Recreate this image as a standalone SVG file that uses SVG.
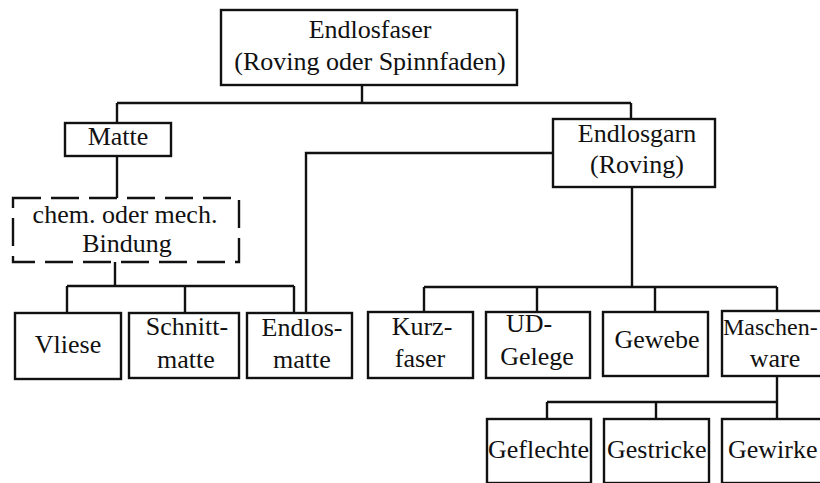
<svg xmlns="http://www.w3.org/2000/svg" width="820" height="483" viewBox="0 0 820 483">
<style>
.box{fill:#fff;stroke:#111;stroke-width:2.4}
.dash{fill:#fff;stroke:#111;stroke-width:2.4;stroke-dasharray:28 10}
.ln{fill:none;stroke:#111;stroke-width:2.4}
text{font-family:"Liberation Serif","Times New Roman",serif;font-size:26px;fill:#111;text-anchor:middle}
.st{text-anchor:start}
</style>
<rect width="820" height="483" fill="#fff"/>
<g id="connectors">
<path class="ln" d="M362 85V103M117 103H631M117 103V123M631 103V119"/>
<path class="ln" d="M117 156V198"/>
<path class="ln" d="M115 262V286M67 286H294M67 286V313M185 286V313M294 286V313"/>
<path class="ln" d="M553 153H306V313"/>
<path class="ln" d="M632 187V287M424 287H777M424 287V312M537 287V312M655 287V312M777 287V311"/>
<path class="ln" d="M777 376V402M547 402H777M547 402V419M656 402V419M777 402V419"/>
</g>
<g id="endlosfaser"><rect class="box" x="221" y="10" width="296" height="75"/><text x="370" y="38">Endlosfaser</text><text x="370" y="70">(Roving oder Spinnfaden)</text></g>
<g id="matte"><rect class="box" x="65" y="123" width="106" height="33"/><text x="118" y="145">Matte</text></g>
<g id="bindung"><rect class="dash" x="13" y="198" width="226" height="64"/><text x="125" y="223">chem. oder mech.</text><text x="127" y="252">Bindung</text></g>
<g id="endlosgarn"><rect class="box" x="553" y="119" width="162" height="68"/><text x="637" y="142">Endlosgarn</text><text x="637" y="173">(Roving)</text></g>
<g id="vliese"><rect class="box" x="15" y="313" width="106" height="66"/><text x="68" y="353">Vliese</text></g>
<g id="schnittmatte"><rect class="box" x="129" y="313" width="110" height="65"/><text x="187" y="335">Schnitt-</text><text x="186" y="368">matte</text></g>
<g id="endlosmatte"><rect class="box" x="247" y="313" width="105" height="65"/><text x="302" y="336">Endlos-</text><text x="302" y="368">matte</text></g>
<g id="kurzfaser"><rect class="box" x="368" y="312" width="105" height="66"/><text x="422" y="335">Kurz-</text><text x="420" y="367">faser</text></g>
<g id="udgelege"><rect class="box" x="486" y="312" width="104" height="66"/><text x="529" y="332">UD-</text><text x="537" y="365">Gelege</text></g>
<g id="gewebe"><rect class="box" x="603" y="312" width="105" height="64"/><text x="657" y="348">Gewebe</text></g>
<g id="maschenware"><rect class="box" x="722" y="311" width="112" height="65"/><text class="st" x="723" y="335" style="font-size:24px">Maschen-</text><text x="775" y="367">ware</text></g>
<g id="geflechte"><rect class="box" x="487" y="419" width="104" height="64"/><text class="st" x="488" y="458">Geflechte</text></g>
<g id="gestricke"><rect class="box" x="604" y="419" width="105" height="64"/><text class="st" x="607" y="458">Gestricke</text></g>
<g id="gewirke"><rect class="box" x="722" y="419" width="112" height="64"/><text class="st" x="728" y="458">Gewirke</text></g>
</svg>
